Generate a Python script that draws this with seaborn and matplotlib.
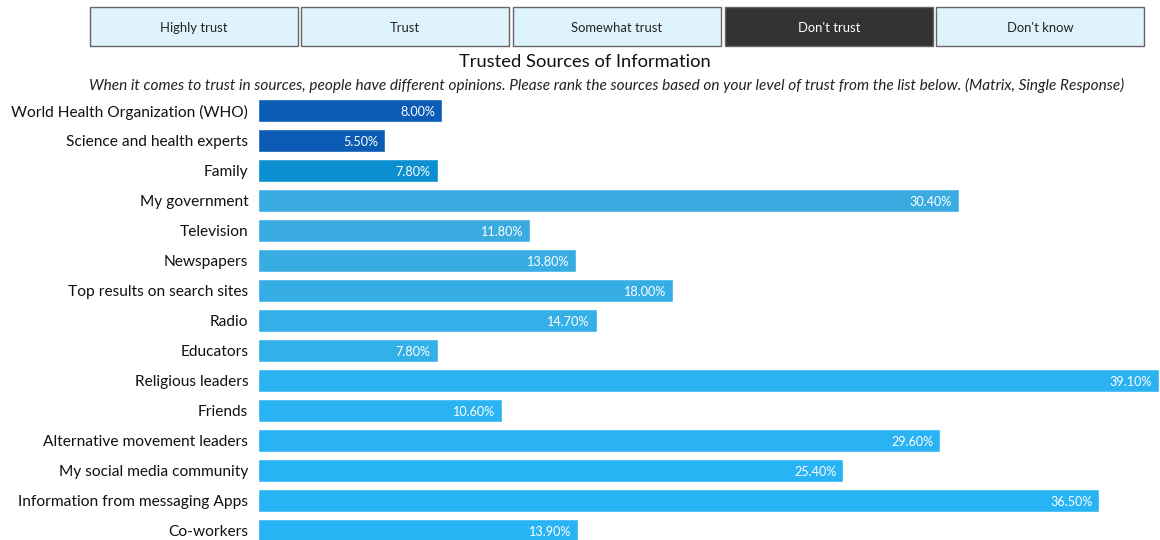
import matplotlib
matplotlib.use("Agg")
import matplotlib.pyplot as plt
from matplotlib.patches import Rectangle
import seaborn as sns
import pandas as pd

# Survey data: share of respondents who "Don't trust" each source
sources = [
    "World Health Organization (WHO)",
    "Science and health experts",
    "Family",
    "My government",
    "Television",
    "Newspapers",
    "Top results on search sites",
    "Radio",
    "Educators",
    "Religious leaders",
    "Friends",
    "Alternative movement leaders",
    "My social media community",
    "Information from messaging Apps",
    "Co-workers",
]
dont_trust = [8.00, 5.50, 7.80, 30.40, 11.80, 13.80, 18.00, 14.70,
              7.80, 39.10, 10.60, 29.60, 25.40, 36.50, 13.90]
bar_colors = [
    "#0b5cb5", "#0b5ab3", "#0b8fd0", "#3aabe1", "#3aabe1",
    "#38ade3", "#36aee5", "#34afe8", "#32b0ea", "#2bb2f0",
    "#2ab3f2", "#29b3f3", "#28b4f4", "#28b4f4", "#28b4f4",
]
trust_levels = ["Highly trust", "Trust", "Somewhat trust", "Don't trust", "Don't know"]
selected_level = "Don't trust"

title = "Trusted Sources of Information"
subtitle = ("When it comes to trust in sources, people have different opinions. "
            "Please rank the sources based on your level of trust from the list below. "
            "(Matrix, Single Response)")

sns.set_theme(style="white")
plt.rcParams["font.family"] = ["Lato", "DejaVu Sans"]

W, H = 1160, 540
fig = plt.figure(figsize=(W / 100, H / 100), dpi=100)
fig.patch.set_facecolor("white")

# Plot area: bars start at x=258 px, rows pitched 30 px apart
left_px, right_px = 258, 1159
top_px, bottom_px = 95.5, 545.5
ax = fig.add_axes([left_px / W, (H - bottom_px) / H,
                   (right_px - left_px) / W, (bottom_px - top_px) / H])

df = pd.DataFrame({"source": sources, "value": dont_trust})
sns.barplot(data=df, x="value", y="source", hue="source",
            palette=dict(zip(sources, bar_colors)), legend=False,
            width=0.78, saturation=1, ax=ax, orient="h")

ax.set_xlim(0, max(dont_trust))
ax.set_ylim(len(sources) - 0.5, -0.5)
ax.set_xlabel("")
ax.set_ylabel("")
ax.set_xticks([])
ax.tick_params(axis="y", length=0, pad=7, labelsize=11.2, labelcolor="#111111")
for s in ax.spines.values():
    s.set_visible(False)
ax.set_facecolor("none")

# Value labels inside the right end of each bar
for i, v in enumerate(dont_trust):
    ax.annotate(f"{v:.2f}%", xy=(v, i), xytext=(-5, -1), textcoords="offset points",
                ha="right", va="center", color="white", fontsize=9.1)

# Trust-level selector buttons along the top
btn_x = [90, 301, 513, 725, 936]
btn_w = 208
btn_y0, btn_y1 = 7, 46
for x0, lab in zip(btn_x, trust_levels):
    active = lab == selected_level
    face = "#333333" if active else "#dff3fd"
    fig.patches.append(Rectangle((x0 / W, 1 - btn_y1 / H), btn_w / W, (btn_y1 - btn_y0) / H,
                                 transform=fig.transFigure, facecolor=face,
                                 edgecolor="#666666", linewidth=1.0))
    fig.text((x0 + btn_w / 2) / W, 1 - 28 / H, lab,
             ha="center", va="center", fontsize=9.4,
             color="white" if active else "#222222")

fig.text(585 / W, 1 - 62 / H, title, ha="center", va="center",
         fontsize=13.2, color="#111111")
fig.text(607 / W, 1 - 85 / H, subtitle, ha="center", va="center",
         fontsize=11.05, style="italic", color="#222222")

fig.savefig("out.png", dpi=100, facecolor="white")
